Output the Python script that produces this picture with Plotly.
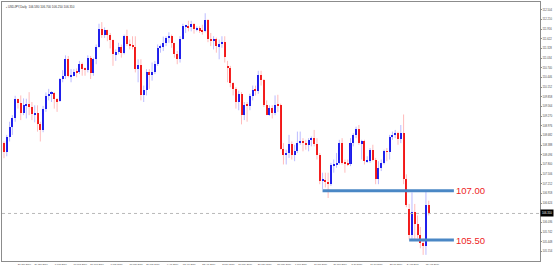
import numpy as np
import pandas as pd
import plotly.graph_objects as go

# ---------------- data (USDJPY daily) ----------------
dates = pd.bdate_range("2019-01-11", "2019-08-14")

opens = [108.25,
 108.45,108.18,108.65,108.95,109.22,109.78,109.66,109.38,109.60,109.64,109.55,109.33,109.38,109.02,
 108.85,109.50,109.88,109.95,109.98,109.78,109.72,110.40,110.48,111.00,110.48,110.50,110.62,110.60,110.85,110.70,110.68,111.05,110.58,111.00,
 111.38,111.92,111.75,111.88,111.75,111.58,111.16,111.22,111.36,111.18,111.70,111.46,111.42,111.38,110.70,110.82,109.92,110.06,110.62,110.52,110.62,
 110.86,111.35,111.37,111.48,111.65,111.72,111.48,111.15,111.02,111.62,112.00,112.02,111.97,112.08,111.92,111.94,111.88,111.85,112.20,111.62,111.55,111.62,
 111.40,111.45,111.52,110.80,110.72,110.27,110.10,109.70,109.95,109.30,109.60,109.58,109.88,110.08,110.05,110.52,110.38,109.60,109.32,109.52,109.38,109.62,109.60,
 108.28,108.08,108.15,108.42,108.10,108.20,108.45,108.52,108.45,108.40,108.55,108.60,108.42,108.10,107.30,107.32,107.28,107.20,107.78,107.80,
 107.85,108.45,107.85,107.82,107.80,108.45,108.70,108.88,108.45,108.50,107.90,107.92,108.25,107.95,107.35,107.70,107.85,108.20,108.18,108.65,108.70,108.75,108.58,
 108.75,107.35,106.45,105.65,106.35,106.00,105.65,105.40,105.32,106.58]
highs = [108.55,
 108.50,108.70,109.10,109.30,109.89,109.80,109.90,109.81,109.80,110.00,109.70,109.60,109.60,109.10,
 109.58,109.99,110.10,110.03,110.00,109.82,110.43,110.67,111.12,111.10,110.70,110.70,110.72,110.95,110.90,110.75,111.12,111.10,111.05,111.45,
 112.08,112.13,111.97,111.90,111.80,111.60,111.30,111.50,111.45,111.75,111.90,111.60,111.70,111.70,111.00,111.00,110.20,110.70,110.70,110.90,110.95,
 111.45,111.45,111.69,111.70,111.82,111.75,111.50,111.25,111.70,112.08,112.05,112.17,112.17,112.10,112.00,112.00,112.05,112.40,112.22,111.80,111.70,111.66,
 111.60,111.70,111.70,110.95,110.80,110.30,110.15,110.05,110.00,109.70,109.70,109.95,110.20,110.20,110.65,110.65,110.40,109.75,109.60,109.60,109.90,109.92,109.65,
 108.45,108.25,108.70,108.50,108.40,108.80,108.80,108.60,108.55,108.60,108.65,108.85,108.60,108.15,107.55,107.55,107.55,107.85,107.95,108.15,
 108.55,108.60,107.95,107.95,108.60,108.75,108.95,109.00,108.55,108.55,108.05,108.30,108.40,108.00,107.90,107.95,108.25,108.30,108.70,108.80,108.85,108.80,109.00,
 109.32,107.50,106.60,106.95,106.60,106.25,105.90,105.55,106.98,106.70]
lows = [108.05,
 107.99,108.05,108.50,108.70,109.10,109.50,109.15,109.30,109.20,109.30,109.15,109.08,108.80,108.50,
 108.78,109.40,109.75,109.70,109.50,109.40,109.70,110.30,110.40,110.45,110.30,110.48,110.45,110.55,110.50,110.50,110.60,110.40,110.50,110.85,
 111.35,111.65,111.65,111.55,111.33,110.80,110.95,111.15,111.05,111.15,111.40,111.30,111.30,110.60,110.30,109.75,109.70,109.90,110.10,110.35,110.55,
 110.80,111.20,111.25,111.40,111.50,111.35,111.05,110.85,110.90,111.60,111.80,111.85,111.85,111.78,111.85,111.80,111.75,111.82,111.52,111.40,111.30,111.20,
 111.00,111.35,110.90,110.30,110.15,109.90,109.50,109.45,109.02,109.15,109.10,109.45,109.75,109.90,109.95,110.20,109.55,109.30,109.28,109.20,109.30,109.40,108.25,
 107.80,107.80,108.00,107.95,107.90,108.15,108.40,108.20,108.25,108.20,108.35,108.35,107.95,107.20,107.05,107.10,106.78,107.15,107.55,107.70,
 107.80,107.80,107.55,107.75,107.75,108.35,108.60,108.40,107.95,107.80,107.85,107.85,107.90,107.20,107.20,107.60,107.80,107.90,107.95,108.55,108.60,108.40,108.45,
 107.20,106.50,105.52,105.50,105.50,105.55,105.25,105.05,105.05,106.25]
closes = [108.45,
 108.18,108.65,108.95,109.22,109.78,109.66,109.38,109.60,109.64,109.55,109.33,109.38,109.02,108.85,
 109.50,109.88,109.95,109.98,109.78,109.72,110.40,110.48,111.00,110.48,110.50,110.62,110.60,110.85,110.70,110.68,111.05,110.58,111.00,111.38,
 111.92,111.75,111.88,111.75,111.58,111.16,111.22,111.36,111.18,111.70,111.46,111.42,111.38,110.70,110.82,109.92,110.06,110.62,110.52,110.62,110.86,
 111.35,111.37,111.48,111.65,111.72,111.48,111.15,111.02,111.62,112.00,112.02,111.97,112.08,111.92,111.94,111.88,111.85,112.20,111.62,111.55,111.62,111.40,
 111.45,111.52,111.08,110.72,110.27,110.10,109.70,109.95,109.30,109.60,109.58,109.88,110.08,110.05,110.52,110.38,109.60,109.32,109.52,109.38,109.62,109.60,108.28,
 108.08,108.15,108.42,108.10,108.20,108.45,108.52,108.45,108.40,108.55,108.60,108.42,108.10,107.30,107.32,107.28,107.20,107.78,107.80,107.85,
 108.45,107.85,107.82,107.80,108.45,108.70,108.88,108.45,108.50,107.90,107.92,108.25,107.95,107.35,107.70,107.85,108.20,108.18,108.65,108.70,108.75,108.58,108.75,
 107.35,106.58,105.65,106.35,106.00,105.65,105.40,105.32,106.58,106.31]

level_values = [107.00, 105.50]
level_labels = ["107.00", "105.50"]
level_start_dates = ["2019-06-21", "2019-08-05"]
level_bars_past_last = 9

tick_dates = ["2019-01-10", "2019-01-21", "2019-01-29", "2019-02-07", "2019-02-18", "2019-02-26",
              "2019-03-07", "2019-03-18", "2019-03-26", "2019-04-04", "2019-04-12", "2019-04-23",
              "2019-05-02", "2019-05-10", "2019-05-21", "2019-05-30", "2019-06-07", "2019-06-18",
              "2019-06-27", "2019-07-05", "2019-07-16", "2019-07-25", "2019-08-02", "2019-08-13"]
tick_text = ["10 Jan 2019", "21 Jan 2019", "29 Jan 2019", "7 Feb 2019", "18 Feb 2019", "26 Feb 2019",
             "7 Mar 2019", "18 Mar 2019", "26 Mar 2019", "4 Apr 2019", "12 Apr 2019", "23 Apr 2019",
             "2 May 2019", "10 May 2019", "21 May 2019", "30 May 2019", "7 Jun 2019", "18 Jun 2019",
             "27 Jun 2019", "5 Jul 2019", "16 Jul 2019", "25 Jul 2019", "2 Aug 2019", "13 Aug 2019"]

title_text = "USDJPY,Daily  106.580 106.700 106.250 106.310"

assert len(dates) == len(opens) == len(highs) == len(lows) == len(closes)

# ---------------- build ----------------
o = np.array(opens); h = np.array(highs); l = np.array(lows); c = np.array(closes)
bar_x = np.array([np.busday_count("2019-01-14", d.strftime("%Y-%m-%d")) for d in dates], dtype=float)
up = c >= o

BLUE = "#1c1ce8"
RED = "#f01818"

fig = go.Figure()

for mask, wick_col in [(up, "rgba(60,60,255,0.35)"), (~up, "rgba(255,60,60,0.35)")]:
    wx, wy = [], []
    for xi, lo, hi in zip(bar_x[mask], l[mask], h[mask]):
        wx += [xi, xi, None]
        wy += [lo, hi, None]
    fig.add_trace(go.Scatter(x=wx, y=wy, mode="lines", line=dict(color=wick_col, width=1),
                             hoverinfo="skip", showlegend=False))

for mask, col in [(up, BLUE), (~up, RED)]:
    base = np.minimum(o[mask], c[mask])
    height = np.maximum(np.abs(c[mask] - o[mask]), 0.03)
    fig.add_trace(go.Bar(x=bar_x[mask], y=height, base=base, width=0.72,
                         marker=dict(color=col, line=dict(width=0)), showlegend=False))

# current price dotted line
last_close = closes[-1]
fig.add_trace(go.Scatter(x=[-5, 250], y=[last_close, last_close], mode="lines",
                         line=dict(color="#b8b8b8", width=1, dash="dot"), hoverinfo="skip", showlegend=False))

# horizontal levels
last_x = bar_x[-1]
for val, lab, sd in zip(level_values, level_labels, level_start_dates):
    x0 = float(np.busday_count("2019-01-14", sd))
    x1 = last_x + level_bars_past_last
    fig.add_trace(go.Scatter(x=[x0, x1], y=[val, val], mode="lines",
                             line=dict(color="#4a87c5", width=3), hoverinfo="skip", showlegend=False))
    fig.add_annotation(x=x1, y=val, text=lab, showarrow=False, xanchor="left", yanchor="middle",
                       xshift=0, font=dict(family="Liberation Sans, Arial", size=9.5, color="#ee1c24"))

tick_vals = [float(np.busday_count("2019-01-14", d)) + 2.3 for d in tick_dates]

px_per_bar = 2.81
x_left = -2 / px_per_bar
x_right = x_left + 541 / px_per_bar

fig.update_layout(
    width=554, height=268,
    margin=dict(l=2, r=11, t=1, b=7),
    paper_bgcolor="white", plot_bgcolor="white",
    barmode="overlay", bargap=0,
    showlegend=False,
    font=dict(family="Liberation Sans, Arial", size=3, color="#333333"),
    xaxis=dict(range=[x_left, x_right], showgrid=False, zeroline=False,
               tickmode="array", tickvals=tick_vals, ticktext=tick_text, tickangle=0,
               tickfont=dict(size=2.4, color="#444444"), ticks="", ticklen=0,
               showline=True, linecolor="#8c8c8c", linewidth=1, mirror=True),
    yaxis=dict(range=[104.864, 112.742], side="right", showgrid=False, zeroline=False,
               tick0=104.86, dtick=0.294, tickformat=".3f",
               tickfont=dict(size=2.7, color="#444444"), ticks="outside", ticklen=1, tickcolor="#8c8c8c",
               showline=True, linecolor="#8c8c8c", linewidth=1, mirror=True),
)

fig.add_annotation(xref="paper", yref="paper", x=0, y=1, xanchor="left", yanchor="top",
                   xshift=2, yshift=-1, text="▪ " + title_text, showarrow=False,
                   font=dict(size=3, color="#333333"))
fig.add_annotation(xref="paper", yref="y", x=1, y=last_close, xanchor="left", yanchor="middle",
                   xshift=0, text="%.3f" % last_close, showarrow=False, bgcolor="#000000",
                   borderpad=1, font=dict(size=2.7, color="#ffffff"))

fig.write_html("out.html")
